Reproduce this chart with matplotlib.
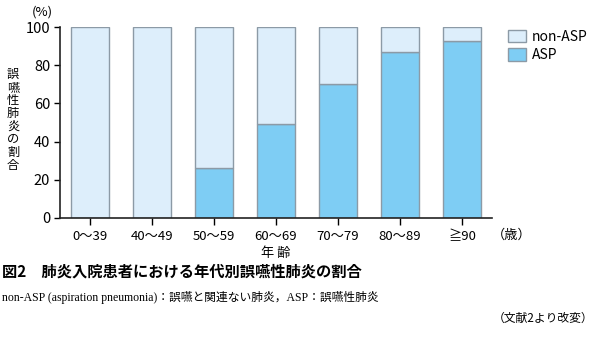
import matplotlib
matplotlib.use("Agg")
import matplotlib.pyplot as plt
from matplotlib.patches import Patch

plt.rcParams['font.family'] = ['Noto Sans CJK JP', 'DejaVu Sans']

categories = ["0〜39", "40〜49", "50〜59", "60〜69", "70〜79", "80〜89", "≧90"]
asp = [0, 0, 26, 49, 70, 87, 93]
non_asp = [100 - v for v in asp]
yticks = [0, 20, 40, 60, 80, 100]

c_asp = "#7ecdf4"
c_non = "#ddeefb"
c_edge = "#8c9aa6"

fig = plt.figure(figsize=(5.95, 3.43), dpi=100)
ax = fig.add_axes([60/595, 1-217.7/343, (492-60)/595, (217.7-27.3)/343])

x = list(range(len(categories)))
w = 38/62
ax.bar(x, asp, width=w, color=c_asp, edgecolor=c_edge, linewidth=1.0)
ax.bar(x, non_asp, bottom=asp, width=w, color=c_non, edgecolor=c_edge, linewidth=1.0)

ax.set_xlim(-30/62, 402/62)
ax.set_ylim(0, 100)
ax.set_yticks(yticks)
ax.set_xticks(x)
ax.set_xticklabels(categories, fontsize=9.5)
ax.tick_params(axis='y', labelsize=10.5, length=4, width=1, pad=3)
ax.tick_params(axis='x', length=5, width=1, pad=4)
for s in ['top', 'right']:
    ax.spines[s].set_visible(False)
for s in ['left', 'bottom']:
    ax.spines[s].set_linewidth(1.2)
    ax.spines[s].set_color("#222222")

# axis annotations
fig.text(42/595, 1-12/343, "(%)", fontsize=9.5, ha='center', va='center')
fig.text(13/595, 1-120/343, "\n".join("誤嚥性肺炎の割合"), fontsize=8.8, ha='center', va='center', linespacing=1.0)
fig.text(276/595, 1-254/343, "年 齢", fontsize=9.5, ha='center', va='center')
fig.text(512/595, 1-235/343, "（歳）", fontsize=9.5, ha='center', va='center')

# legend
handles = [Patch(facecolor=c_non, edgecolor=c_edge, label="non-ASP"),
           Patch(facecolor=c_asp, edgecolor=c_edge, label="ASP")]
fig.legend(handles=handles, loc='upper left', bbox_to_anchor=(501/595, 1-23/343),
           frameon=False, fontsize=10, handlelength=1.3, handleheight=1.0,
           handletextpad=0.4, labelspacing=0.3, borderpad=0)

# caption
fig.text(2/595, 1-272/343, "図2　肺炎入院患者における年代別誤嚥性肺炎の割合", fontsize=11,
         fontweight='bold', ha='left', va='center')
fig.text(2/595, 1-298/343, "non-ASP (aspiration pneumonia)：誤嚥と関連ない肺炎，ASP：誤嚥性肺炎",
         fontsize=8.5, ha='left', va='center', family=['Liberation Serif', 'Noto Sans CJK JP'])
fig.text(593/595, 1-318/343, "（文献2より改変）", fontsize=8.5, ha='right', va='center')

fig.savefig("out.png", dpi=100)
